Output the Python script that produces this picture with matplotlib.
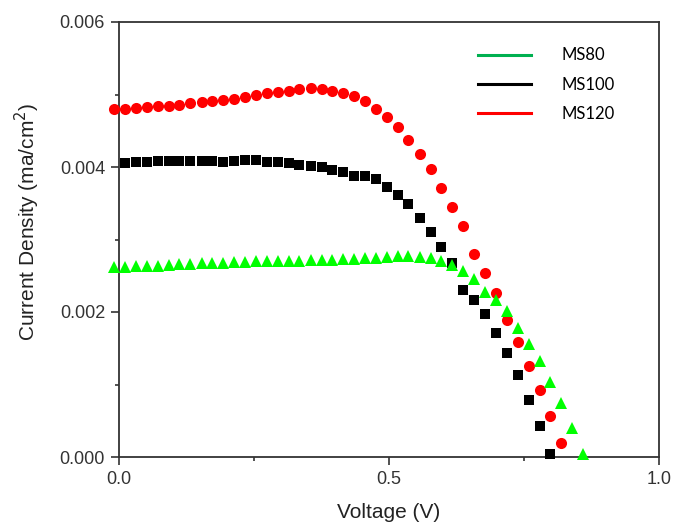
import matplotlib
matplotlib.use("Agg")
import matplotlib.pyplot as plt
from matplotlib.lines import Line2D
from matplotlib.ticker import MultipleLocator

# Voltage sweep (V), shared by the three samples
voltage = [-0.009, 0.011, 0.031, 0.052, 0.072, 0.092, 0.112, 0.132, 0.153, 0.173,
           0.193, 0.213, 0.233, 0.254, 0.274, 0.294, 0.314, 0.334, 0.355, 0.375,
           0.395, 0.415, 0.435, 0.456, 0.476, 0.496, 0.516, 0.536, 0.557, 0.577,
           0.597, 0.617, 0.637, 0.658, 0.678, 0.698, 0.718, 0.738, 0.759, 0.779,
           0.799, 0.819, 0.839, 0.860]

# Current density, in units of 1e-3 ma/cm^2
ms80 = [2.62, 2.62, 2.63, 2.63, 2.64, 2.65, 2.66, 2.66, 2.67, 2.68,
        2.68, 2.69, 2.69, 2.70, 2.70, 2.71, 2.71, 2.71, 2.72, 2.72,
        2.72, 2.73, 2.73, 2.74, 2.75, 2.76, 2.77, 2.77, 2.76, 2.74,
        2.71, 2.65, 2.56, 2.45, 2.28, 2.17, 2.02, 1.78, 1.56, 1.32,
        1.03, 0.74, 0.40, 0.04]

# MS100 starts at the second voltage point
ms100 = [4.05, 4.065, 4.075, 4.085, 4.08, 4.08, 4.085, 4.08, 4.08, 4.075,
         4.08, 4.09, 4.09, 4.075, 4.065, 4.055, 4.03, 4.015, 4.005, 3.955,
         3.925, 3.88, 3.88, 3.835, 3.725, 3.61, 3.485, 3.29, 3.10, 2.89,
         2.67, 2.31, 2.165, 1.97, 1.705, 1.43, 1.125, 0.785, 0.43, 0.04]

ms120 = [4.80, 4.80, 4.81, 4.83, 4.84, 4.84, 4.86, 4.88, 4.90, 4.915,
         4.92, 4.94, 4.97, 5.00, 5.02, 5.03, 5.05, 5.07, 5.085, 5.08,
         5.05, 5.02, 4.985, 4.915, 4.80, 4.69, 4.55, 4.37, 4.175, 3.97,
         3.705, 3.45, 3.18, 2.80, 2.535, 2.265, 1.89, 1.59, 1.26, 0.925,
         0.57, 0.20]

plt.rcParams['font.family'] = ['Liberation Sans', 'DejaVu Sans']

fig = plt.figure(figsize=(6.74, 5.25), dpi=100)
ax = fig.add_axes([119 / 674, 1 - 457 / 525, 540 / 674, 435 / 525])

v100 = voltage[1:1 + len(ms100)]
ax.plot(v100, [c * 1e-3 for c in ms100], 's', color='black', ms=7,
        mew=0, clip_on=False, zorder=3)
ax.plot(voltage[:len(ms120)], [c * 1e-3 for c in ms120], 'o', color='#ff0000',
        ms=8, mew=0, clip_on=False, zorder=3)
ax.plot(voltage[:len(ms80)], [c * 1e-3 for c in ms80], '^', color='#00ff00',
        ms=8, mew=0, clip_on=False, zorder=4)

ax.set_xlim(0, 1.0)
ax.set_ylim(0, 0.006)
ax.xaxis.set_major_locator(MultipleLocator(0.5))
ax.xaxis.set_minor_locator(MultipleLocator(0.25))
ax.yaxis.set_major_locator(MultipleLocator(0.002))
ax.yaxis.set_minor_locator(MultipleLocator(0.001))
ax.xaxis.set_major_formatter(lambda x, pos: f"{x:.1f}")
ax.yaxis.set_major_formatter(lambda y, pos: f"{y:.3f}")

for s in ax.spines.values():
    s.set_color('#333333')
    s.set_linewidth(1.3)
ax.tick_params(which='major', direction='out', length=6, width=1.2,
               color='#333333', labelsize=13, labelcolor='#333333', pad=4)
ax.tick_params(which='minor', direction='out', length=3, width=1.2,
               color='#333333')
ax.tick_params(top=False, right=False, which='both')

ax.set_xlabel('Voltage (V)', fontsize=15, color='#222222', labelpad=11)
ax.set_ylabel('Current Density (ma/cm$^2$)', fontsize=15, color='#222222',
              labelpad=13, y=0.54)

handles = [Line2D([], [], color='#00b050', lw=2.2),
           Line2D([], [], color='black', lw=2.2),
           Line2D([], [], color='#ff0000', lw=2.2)]
leg = ax.legend(handles, ['MS80', 'MS100', 'MS120'], loc='upper left',
                bbox_to_anchor=(0.637, 0.976), frameon=False,
                prop={'family': 'Lato', 'size': 12},
                handlelength=3.2, handletextpad=1.8, labelspacing=0.8)

fig.savefig('out.png', dpi=100)
